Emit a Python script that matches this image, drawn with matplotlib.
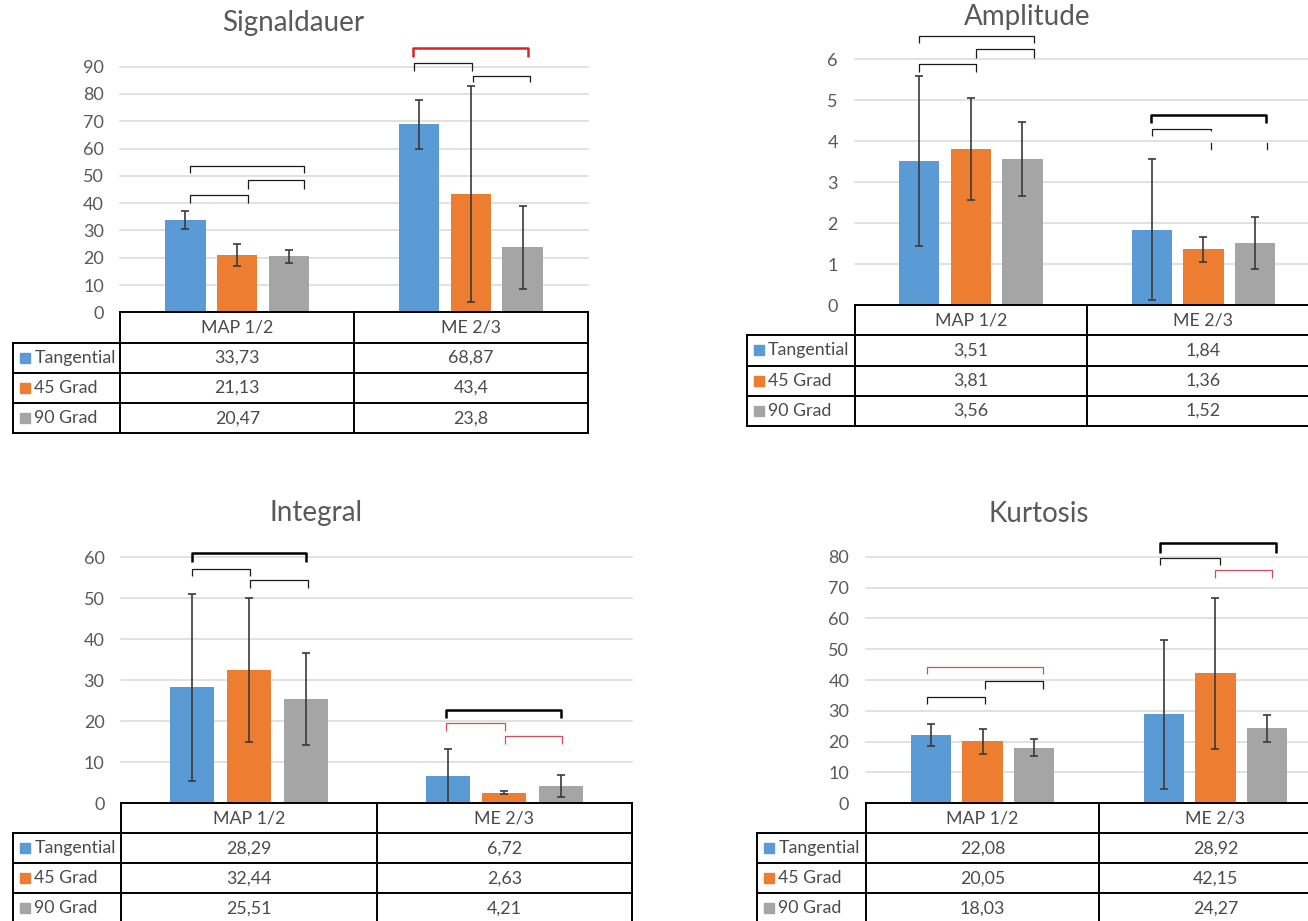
import matplotlib
matplotlib.use("Agg")
import matplotlib.pyplot as plt
import numpy as np

plt.rcParams["font.family"] = ["Lato", "DejaVu Sans"]

W, H = 1308, 921

categories = ["MAP 1/2", "ME 2/3"]
series = ["Tangential", "45 Grad", "90 Grad"]
colors = ["#5B9BD5", "#ED7D31", "#A5A5A5"]

# Mittelwerte (Reihen: Tangential, 45 Grad, 90 Grad; Spalten: MAP 1/2, ME 2/3)
sig_means = [[33.73, 68.87], [21.13, 43.4], [20.47, 23.8]]
sig_err = [[3.3, 9.0], [4.0, 39.7], [2.3, 15.2]]

amp_means = [[3.51, 1.84], [3.81, 1.36], [3.56, 1.52]]
amp_err = [[2.07, 1.72], [1.25, 0.30], [0.90, 0.63]]

int_means = [[28.29, 6.72], [32.44, 2.63], [25.51, 4.21]]
int_err = [[22.8, 6.55], [17.6, 0.45], [11.2, 2.6]]

kur_means = [[22.08, 28.92], [20.05, 42.15], [18.03, 24.27]]
kur_err = [[3.5, 24.2], [4.1, 24.6], [2.7, 4.3]]

# Signifikanzklammern: x1, x2, y oben, Ende links, Ende rechts, Art
sig_brackets = [
    (0.298, 0.544, 43.0, 40.2, 40.2, "thin"),
    (0.544, 0.787, 48.4, 45.3, 45.3, "thin"),
    (0.298, 0.787, 53.5, 50.9, 50.9, "thin"),
    (1.253, 1.747, 96.7, 93.7, 93.7, "red_thick"),
    (1.256, 1.506, 91.3, 88.4, 88.4, "thin"),
    (1.508, 1.755, 86.7, 84.4, 84.4, "thin"),
]
amp_brackets = [
    (0.277, 0.522, 5.88, 5.70, 5.70, "thin"),
    (0.522, 0.770, 6.25, 6.03, 6.03, "thin"),
    (0.277, 0.770, 6.57, 6.41, 6.41, "thin"),
    (1.276, 1.769, 4.64, 4.44, 4.44, "thick"),
    (1.277, 1.531, 4.31, 4.13, 4.24, "thin"),
]
amp_dashes = [(1.531, 3.81, 3.95), (1.774, 3.81, 3.95)]
int_brackets = [
    (0.276, 0.506, 57.2, 55.4, 55.4, "thin"),
    (0.506, 0.732, 54.4, 52.4, 52.4, "thin"),
    (0.276, 0.722, 61.0, 58.9, 58.9, "thick"),
    (1.272, 1.722, 22.8, 20.7, 20.7, "thick"),
    (1.272, 1.503, 19.5, 17.6, 17.6, "red_thin"),
    (1.503, 1.727, 16.3, 14.5, 14.5, "red_thin"),
]
kur_brackets = [
    (0.263, 0.758, 44.3, 41.8, 41.8, "red_thin"),
    (0.512, 0.758, 39.7, 37.0, 37.0, "thin"),
    (0.263, 0.512, 34.6, 32.2, 32.2, "thin"),
    (1.263, 1.758, 84.5, 81.3, 81.3, "thick"),
    (1.263, 1.518, 79.7, 77.2, 77.2, "thin"),
    (1.496, 1.742, 75.8, 73.2, 73.2, "red_thin"),
]

STYLES = {
    "thin": dict(color="#1a1a1a", lw=0.9),
    "thick": dict(color="#000000", lw=1.8),
    "red_thick": dict(color="#E0202A", lw=1.8),
    "red_thin": dict(color="#E04A58", lw=0.9),
}
TXT = "#595959"
TAB_TXT = "#4a4a4a"

fig = plt.figure(figsize=(W / 100, H / 100), dpi=100)


def fmt(v):
    return f"{v:g}".replace(".", ",")


def draw_panel(title, means, errs, ymax, ystep, brackets, gl, cw, y0, ytop, tl, rh,
               tx, ty, dashes=()):
    ax = fig.add_axes([gl / W, 1 - y0 / H, 2 * cw / W, (y0 - ytop) / H])
    ax.set_xlim(0, 2)
    ax.set_ylim(0, ymax)
    ax.set_yticks(np.arange(0, ymax + ystep / 2, ystep))
    ax.yaxis.grid(True, color="#D9D9D9", lw=1.1)
    ax.set_axisbelow(True)
    for s in ax.spines.values():
        s.set_visible(False)
    ax.set_xticks([])
    ax.tick_params(axis="y", length=0, pad=12, labelsize=13, labelcolor=TXT)
    for gl_line in ax.get_ygridlines():
        gl_line.set_clip_on(False)

    x = np.arange(len(categories)) + 0.5
    for j, (m, e) in enumerate(zip(means, errs)):
        xs = x + (j - 1) * 0.222
        ax.bar(xs, m, width=0.173, color=colors[j], zorder=2)
        ax.errorbar(xs, m, yerr=e, fmt="none", ecolor="#3a3a3a", elinewidth=1.2,
                    capsize=3.2, capthick=1.2, zorder=3)

    for x1, x2, yt, yl, yr, kind in brackets:
        ax.plot([x1, x1, x2, x2], [yl, yt, yt, yr], clip_on=False,
                solid_capstyle="butt", zorder=4, **STYLES[kind])
    for xd, ya, yb in dashes:
        ax.plot([xd, xd], [ya, yb], clip_on=False, zorder=4, **STYLES["thin"])

    fig.text(tx / W, 1 - ty / H, title, ha="center", va="center",
             fontsize=20, color=TXT)

    # Datentabelle unter dem Diagramm
    tab = fig.add_axes([gl / W, 1 - (y0 + 4 * rh) / H, 2 * cw / W, 4 * rh / H])
    tab.set_xlim(0, 2)
    tab.set_ylim(4, 0)
    tab.axis("off")
    tl_d = -(gl - tl) / cw
    lk = dict(color="black", lw=1.4, clip_on=False, solid_capstyle="projecting")
    tab.plot([0, 2], [0, 0], **lk)
    for r in range(1, 5):
        tab.plot([tl_d, 2], [r, r], **lk)
    for xv in (0, 1, 2):
        tab.plot([xv, xv], [0, 4], **lk)
    tab.plot([tl_d, tl_d], [1, 4], **lk)

    for i, cat in enumerate(categories):
        tab.text(i + 0.5, 0.5, cat, ha="center", va="center", fontsize=12.8,
                 color=TAB_TXT, clip_on=False)
    for j, name in enumerate(series):
        yrow = j + 1.5
        tab.plot([tl_d + 12 / cw], [yrow], marker="s", ms=7.3, color=colors[j],
                 clip_on=False, lw=0)
        tab.text(tl_d + 21 / cw, yrow, name, ha="left", va="center",
                 fontsize=12.8, color=TAB_TXT, clip_on=False)
        for i in range(len(categories)):
            tab.text(i + 0.5, yrow, fmt(means[j][i]), ha="center", va="center",
                     fontsize=12.8, color=TAB_TXT, clip_on=False)


draw_panel("Signaldauer", sig_means, sig_err, 90, 10, sig_brackets,
           120.5, 233.5, 312.3, 66.7, 13.4, 30.3, 293, 23.3)
draw_panel("Amplitude", amp_means, amp_err, 6, 1, amp_brackets,
           854.5, 232.6, 305.0, 59.3, 747.2, 30.3, 1027, 16.7, dashes=amp_dashes)
draw_panel("Integral", int_means, int_err, 60, 10, int_brackets,
           121.2, 255.4, 803.3, 557.3, 13.5, 30.0, 316, 513.3)
draw_panel("Kurtosis", kur_means, kur_err, 80, 10, kur_brackets,
           866.0, 233.0, 803.3, 556.7, 757.4, 30.0, 1039, 514)

fig.savefig("out.png", dpi=100)
